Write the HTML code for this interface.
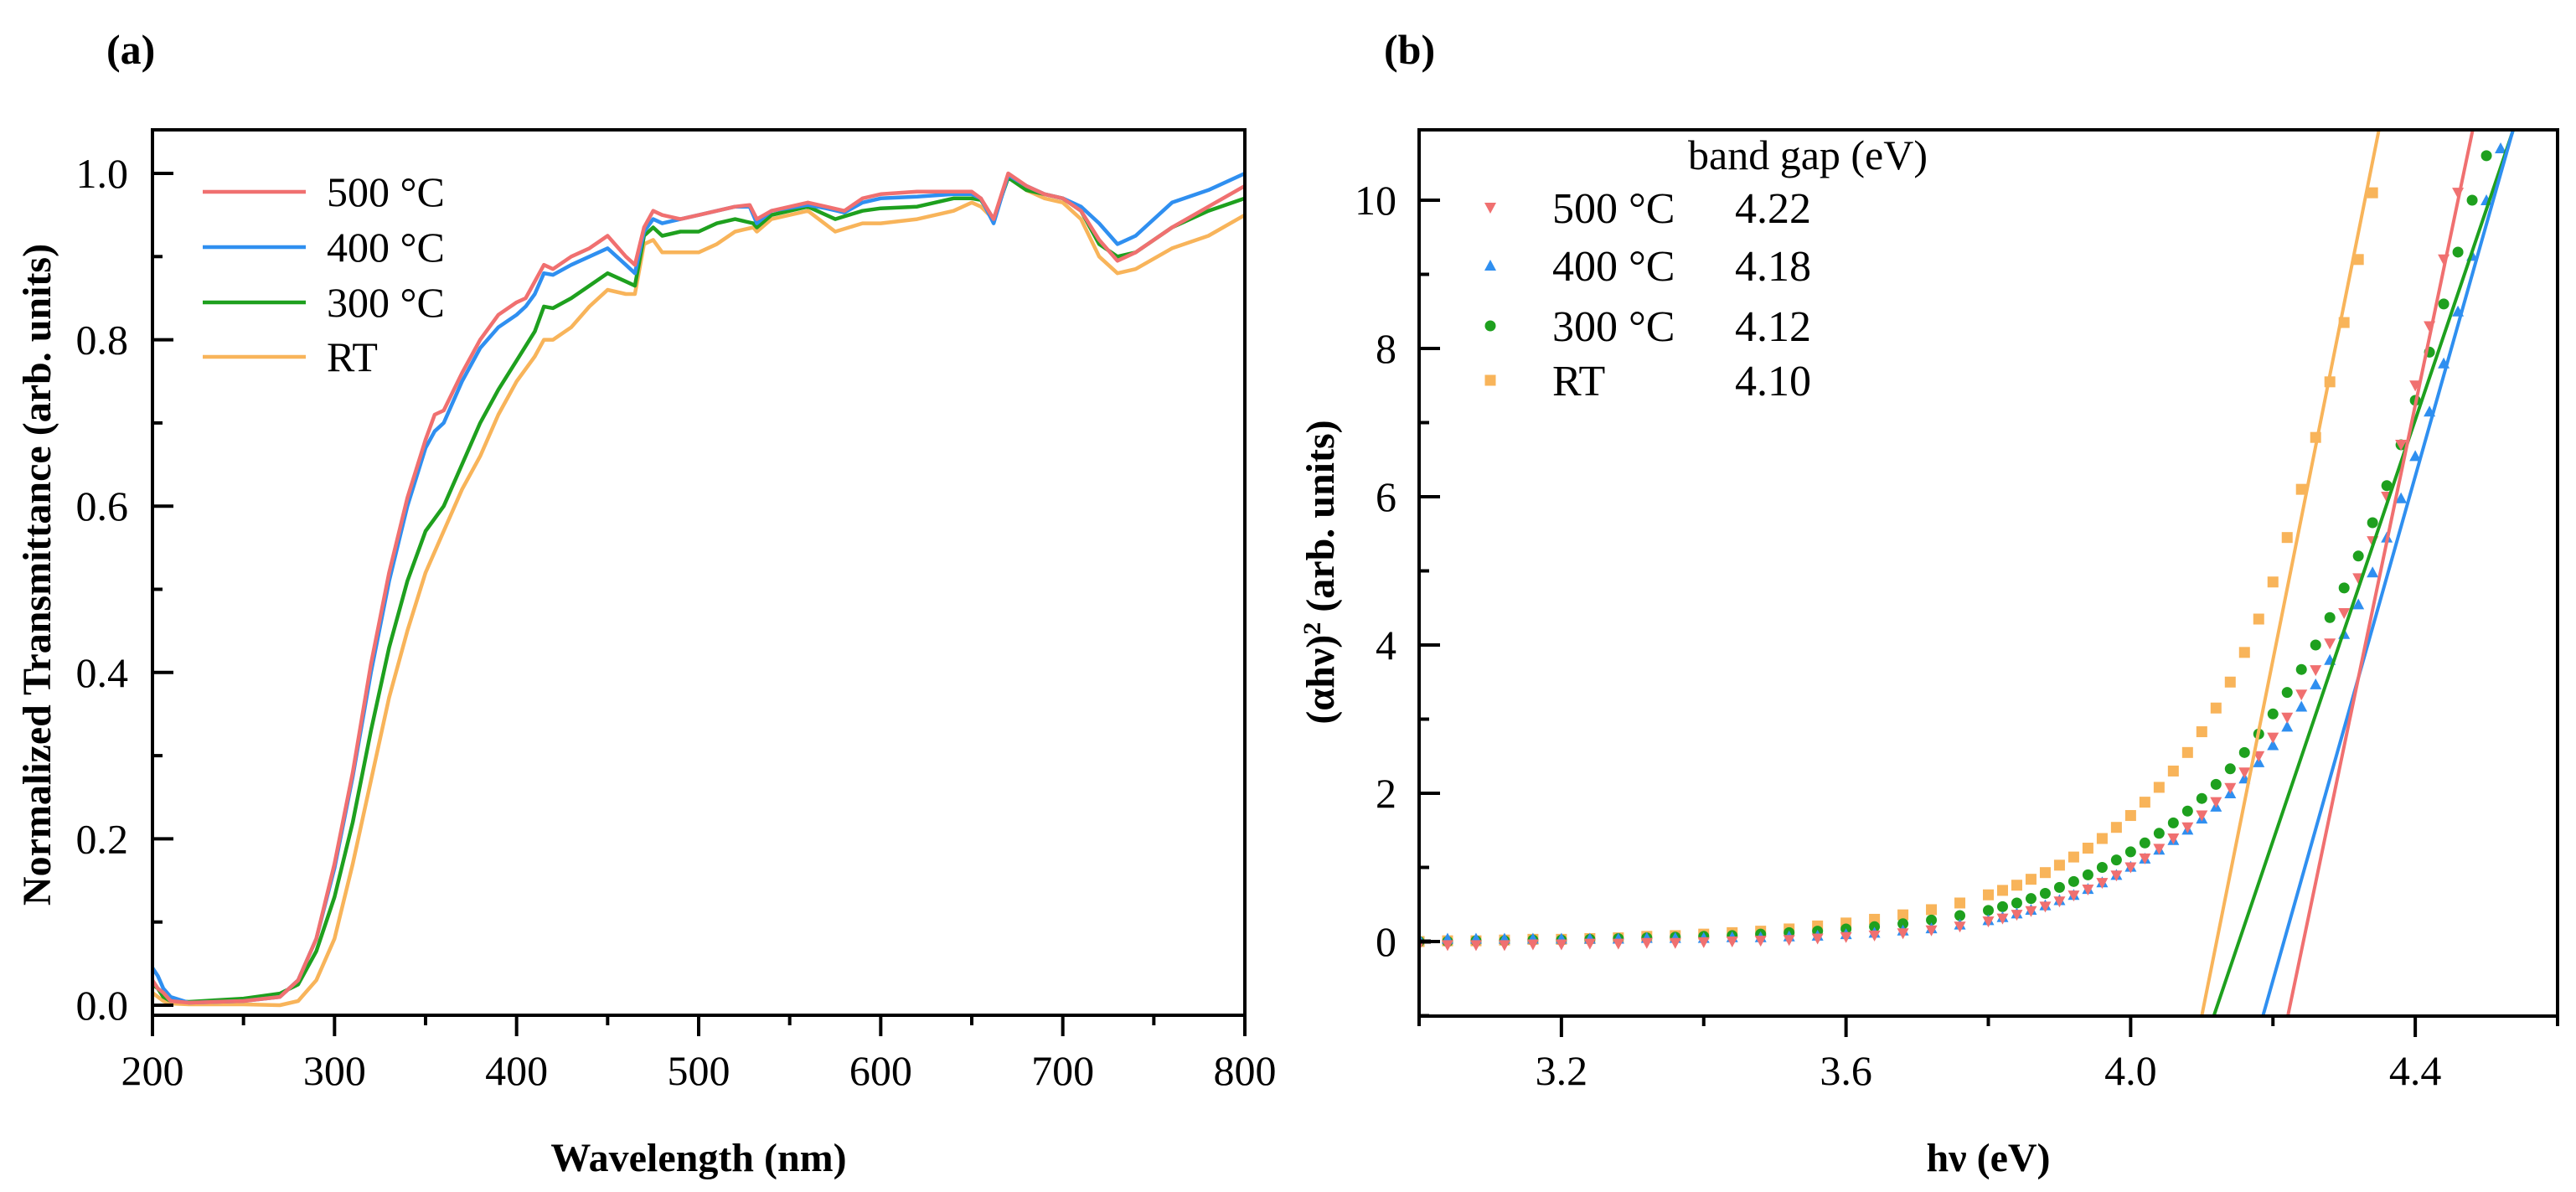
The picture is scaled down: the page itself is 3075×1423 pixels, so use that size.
<!DOCTYPE html>
<html><head><meta charset="utf-8">
<style>
html,body{margin:0;padding:0;background:#fff;overflow:hidden;}
svg{display:block;font-family:"Liberation Serif",serif;}
</style></head>
<body>
<svg id="fig" width="3075" height="1423" viewBox="0 0 3075 1423" xmlns="http://www.w3.org/2000/svg">
<rect width="3075" height="1423" fill="#fff"/>
<text x="127" y="76" font-size="50" font-weight="bold">(a)</text>
<text x="1652" y="76" font-size="50" font-weight="bold">(b)</text>
<g id="pa"></g>
<g id="pb"></g>
</svg>
<script>
// ---------- Panel (a) data ----------
const aXTicks = [200,300,400,500,600,700,800];
const aYTicks = [0.0,0.2,0.4,0.6,0.8,1.0];
const aYTickLabels = ["0.0","0.2","0.4","0.6","0.8","1.0"];
const aNames = ["500 °C","400 °C","300 °C","RT"];
const aColors = ["#f07070","#2f8ff0","#1ea01e","#f8b45a"];
const wl500 = [200,203,206,210,220,250,270,280,290,300,310,320,330,340,350,355,360,370,380,390,400,405,410,415,420,430,440,450,460,465,470,475,480,490,500,510,520,528,532,540,560,570,580,590,600,620,640,650,655,662,670,680,690,700,710,720,730,740,760,780,800];
const t500 = [0.03,0.02,0.015,0.005,0.003,0.005,0.01,0.03,0.08,0.17,0.28,0.41,0.52,0.61,0.68,0.71,0.715,0.76,0.80,0.83,0.845,0.85,0.87,0.89,0.885,0.90,0.91,0.925,0.90,0.89,0.935,0.955,0.95,0.945,0.95,0.955,0.96,0.962,0.945,0.955,0.965,0.96,0.955,0.97,0.975,0.978,0.978,0.978,0.97,0.945,1.0,0.985,0.975,0.97,0.955,0.92,0.895,0.905,0.935,0.96,0.985];
const wl400 = [200,203,206,210,220,250,270,280,290,300,310,320,330,340,350,355,360,370,380,390,400,405,410,415,420,430,440,450,460,465,470,475,480,490,500,510,520,528,532,540,560,570,580,590,600,620,640,650,655,662,670,680,690,700,710,720,730,740,760,780,800];
const t400 = [0.045,0.035,0.02,0.01,0.003,0.005,0.01,0.03,0.08,0.165,0.275,0.40,0.51,0.60,0.67,0.69,0.70,0.75,0.79,0.815,0.83,0.84,0.855,0.88,0.878,0.89,0.90,0.91,0.89,0.88,0.93,0.945,0.94,0.945,0.95,0.955,0.96,0.96,0.94,0.955,0.962,0.958,0.953,0.965,0.97,0.972,0.975,0.975,0.97,0.94,0.998,0.985,0.975,0.97,0.96,0.94,0.915,0.925,0.965,0.98,1.0];
const wl300 = [200,203,206,210,220,250,270,280,290,300,310,320,330,340,350,360,370,380,390,400,410,415,420,430,440,450,460,465,470,475,480,490,500,510,520,530,532,540,560,575,590,600,620,640,650,655,662,670,680,690,700,710,720,730,740,760,780,800];
const t300 = [0.025,0.02,0.01,0.005,0.004,0.008,0.014,0.025,0.065,0.13,0.22,0.33,0.43,0.51,0.57,0.60,0.65,0.70,0.74,0.775,0.81,0.84,0.838,0.85,0.865,0.88,0.87,0.865,0.925,0.935,0.925,0.93,0.93,0.94,0.945,0.94,0.935,0.95,0.96,0.945,0.955,0.958,0.96,0.97,0.97,0.968,0.945,0.995,0.98,0.975,0.97,0.955,0.915,0.90,0.905,0.935,0.955,0.97];
const wlRT = [200,203,206,210,220,250,270,280,290,300,310,320,330,340,350,360,370,380,390,400,410,415,420,430,440,450,460,465,470,475,480,490,500,510,520,530,532,540,560,575,590,600,620,640,650,655,662,670,680,690,700,710,720,730,740,760,780,800];
const tRT = [0.015,0.01,0.005,0.002,0.001,0.001,0.0,0.005,0.03,0.08,0.17,0.27,0.37,0.45,0.52,0.57,0.62,0.66,0.71,0.75,0.78,0.80,0.80,0.815,0.84,0.86,0.855,0.855,0.915,0.92,0.905,0.905,0.905,0.915,0.93,0.935,0.93,0.945,0.955,0.93,0.94,0.94,0.945,0.955,0.965,0.96,0.945,0.995,0.98,0.97,0.965,0.945,0.90,0.88,0.885,0.91,0.925,0.95];

// ---------- Panel (b) data ----------
const bXTicks = [3.2,3.6,4.0,4.4];
const bXTickLabels = ["3.2","3.6","4.0","4.4"];
const bYTicks = [0,2,4,6,8,10];
const bNames = ["500 °C","400 °C","300 °C","RT"];
const bGaps = ["4.22","4.18","4.12","4.10"];
const bColors = ["#f07070","#2f8ff0","#1ea01e","#f8b45a"];
const fitX0 = [4.221,4.186,4.117,4.100];   // x where fit line meets y=-1
const fitSlope = [46,34,28.4,48];
const hv500 = [3.0,3.04,3.08,3.12,3.16,3.2,3.24,3.28,3.32,3.36,3.4,3.44,3.48,3.52,3.56,3.6,3.64,3.68,3.72,3.76,3.8,3.82,3.84,3.86,3.88,3.9,3.92,3.94,3.96,3.98,4.0,4.02,4.04,4.06,4.08,4.1,4.12,4.14,4.16,4.18,4.2,4.22,4.24,4.26,4.28,4.3,4.32,4.34,4.36,4.38,4.4,4.42,4.44,4.46,4.48];
const a500 = [-0.05,-0.05,-0.05,-0.05,-0.04,-0.04,-0.03,-0.03,-0.02,-0.02,-0.01,0.0,0.01,0.02,0.04,0.06,0.08,0.11,0.15,0.2,0.27,0.31,0.36,0.41,0.47,0.54,0.62,0.7,0.79,0.89,1.0,1.12,1.25,1.39,1.54,1.7,1.88,2.07,2.28,2.5,2.75,3.02,3.33,3.66,4.02,4.43,4.9,5.4,6.0,6.7,7.5,8.3,9.2,10.1,11.0];
const hv400 = [3.0,3.04,3.08,3.12,3.16,3.2,3.24,3.28,3.32,3.36,3.4,3.44,3.48,3.52,3.56,3.6,3.64,3.68,3.72,3.76,3.8,3.82,3.84,3.86,3.88,3.9,3.92,3.94,3.96,3.98,4.0,4.02,4.04,4.06,4.08,4.1,4.12,4.14,4.16,4.18,4.2,4.22,4.24,4.26,4.28,4.3,4.32,4.34,4.36,4.38,4.4,4.42,4.44,4.46,4.48,4.5,4.52,4.54];
const a400 = [0.04,0.04,0.04,0.04,0.04,0.04,0.04,0.04,0.05,0.05,0.05,0.06,0.06,0.07,0.08,0.1,0.12,0.15,0.18,0.23,0.29,0.33,0.38,0.43,0.49,0.56,0.63,0.71,0.8,0.9,1.01,1.12,1.24,1.37,1.51,1.66,1.82,2.0,2.2,2.42,2.65,2.9,3.17,3.47,3.8,4.15,4.55,4.98,5.45,5.98,6.55,7.15,7.8,8.5,9.25,10.0,10.7,11.2];
const hv300 = [3.0,3.04,3.08,3.12,3.16,3.2,3.24,3.28,3.32,3.36,3.4,3.44,3.48,3.52,3.56,3.6,3.64,3.68,3.72,3.76,3.8,3.82,3.84,3.86,3.88,3.9,3.92,3.94,3.96,3.98,4.0,4.02,4.04,4.06,4.08,4.1,4.12,4.14,4.16,4.18,4.2,4.22,4.24,4.26,4.28,4.3,4.32,4.34,4.36,4.38,4.4,4.42,4.44,4.46,4.48,4.5,4.52];
const a300 = [0.0,0.0,0.01,0.01,0.02,0.02,0.03,0.04,0.05,0.06,0.07,0.08,0.1,0.12,0.14,0.17,0.2,0.24,0.29,0.35,0.42,0.47,0.52,0.58,0.65,0.73,0.81,0.9,1.0,1.1,1.21,1.33,1.46,1.6,1.76,1.93,2.12,2.33,2.55,2.8,3.07,3.36,3.67,4.0,4.37,4.77,5.2,5.65,6.15,6.7,7.3,7.95,8.6,9.3,10.0,10.6,11.1];
const hvRT = [3.0,3.04,3.08,3.12,3.16,3.2,3.24,3.28,3.32,3.36,3.4,3.44,3.48,3.52,3.56,3.6,3.64,3.68,3.72,3.76,3.8,3.82,3.84,3.86,3.88,3.9,3.92,3.94,3.96,3.98,4.0,4.02,4.04,4.06,4.08,4.1,4.12,4.14,4.16,4.18,4.2,4.22,4.24,4.26,4.28,4.3,4.32,4.34,4.36];
const aRT = [0.0,0.01,0.01,0.02,0.03,0.03,0.04,0.05,0.07,0.08,0.1,0.12,0.14,0.17,0.21,0.25,0.3,0.36,0.43,0.52,0.63,0.69,0.76,0.84,0.93,1.03,1.14,1.26,1.39,1.54,1.7,1.88,2.08,2.3,2.55,2.83,3.15,3.5,3.9,4.35,4.85,5.45,6.1,6.8,7.55,8.35,9.2,10.1,11.0];

const NS = "http://www.w3.org/2000/svg";
function mk(parent, tag, attrs, text){
  const e = document.createElementNS(NS, tag);
  for (const k in attrs) e.setAttribute(k, attrs[k]);
  if (text !== undefined) e.textContent = text;
  parent.appendChild(e);
  return e;
}

// ---------- Panel (a) ----------
(function(){
  const g = document.getElementById('pa');
  const L=182, R=1486, T=155, B=1212;
  const yPx0=1200, yPx1=207;
  const xmin=200, xmax=800;
  const sx = v => L + (v-xmin)/(xmax-xmin)*(R-L);
  const sy = v => yPx0 + v*(yPx1-yPx0);
  const clip = mk(g,'clipPath',{id:'clipA'});
  mk(clip,'rect',{x:L,y:T,width:R-L,height:B-T});
  const wls=[wl500,wl400,wl300,wlRT], ts=[t500,t400,t300,tRT];
  for (let s=3;s>=0;s--){
    const d = wls[s].map((w,i)=>(i?'L':'M')+sx(w).toFixed(1)+','+sy(ts[s][i]).toFixed(1)).join('');
    const p = mk(g,'path',{d:d,fill:'none',stroke:aColors[s],'stroke-width':4.5,'stroke-linejoin':'round','clip-path':'url(#clipA)'});
    
    
  }
  const frame = mk(g,'rect',{x:L,y:T,width:R-L,height:B-T,fill:'none',stroke:'#000','stroke-width':4});
  
  
  for (let v=xmin; v<=xmax; v+=50){
    const major = (v%100===0);
    mk(g,'line',{x1:sx(v),x2:sx(v),y1:B,y2:B+(major?25:12),stroke:'#000','stroke-width':4});
  }
  aXTicks.forEach(v=>{
    const t = mk(g,'text',{x:sx(v),y:1295,'font-size':50,'text-anchor':'middle'},String(v));
    
    
  });
  for (let k=0;k<=10;k++){
    const v=k/10, major=(k%2===0);
    mk(g,'line',{x1:L,x2:L+(major?25:12),y1:sy(v),y2:sy(v),stroke:'#000','stroke-width':4});
  }
  aYTicks.forEach((v,i)=>{
    const t = mk(g,'text',{x:153,y:sy(v)+17,'font-size':50,'text-anchor':'end'},aYTickLabels[i]);
    
    
  });
  const xt = mk(g,'text',{x:(L+R)/2,y:1398,'font-size':48,'font-weight':'bold','text-anchor':'middle'},'Wavelength (nm)');
  
  
  const yt = mk(g,'text',{x:0,y:0,'font-size':48,'font-weight':'bold','text-anchor':'middle',transform:'translate(60,686) rotate(-90)'},'Normalized Transmittance (arb. units)');
  
  
  const ly=[229,295,361,426];
  aNames.forEach((n,i)=>{
    const lg = mk(g,'g',{});
    
    
    mk(lg,'line',{x1:242,x2:365,y1:ly[i],y2:ly[i],stroke:aColors[i],'stroke-width':4.5});
    mk(lg,'text',{x:390,y:ly[i]+17,'font-size':50},n);
  });
})();

// ---------- Panel (b) ----------
(function(){
  const g = document.getElementById('pb');
  const L=1694, R=3053, T=155, B=1213;
  const xmin=3.0, xmax=4.6;
  const yPx0=1124, perUnit=88.5;
  const sx = v => L + (v-xmin)/(xmax-xmin)*(R-L);
  const sy = v => yPx0 - v*perUnit;
  const clip = mk(g,'clipPath',{id:'clipB'});
  mk(clip,'rect',{x:L,y:T,width:R-L,height:B-T});
  const inner = mk(g,'g',{'clip-path':'url(#clipB)'});
  const hvs=[hv500,hv400,hv300,hvRT], as=[a500,a400,a300,aRT];
  function marker(par,s,x,y){
    let e;
    if (s===0) e = mk(par,'path',{d:`M${x-7},${y-6}L${x+7},${y-6}L${x},${y+7}Z`,fill:bColors[s]});
    else if (s===1) e = mk(par,'path',{d:`M${x-7},${y+6}L${x+7},${y+6}L${x},${y-7}Z`,fill:bColors[s]});
    else if (s===2) e = mk(par,'circle',{cx:x,cy:y,r:6.5,fill:bColors[s]});
    else e = mk(par,'rect',{x:x-6.5,y:y-6.5,width:13,height:13,fill:bColors[s]});
    return e;
  }
  [3,2,1,0].forEach(s=>{
    const sg = mk(inner,'g',{});
    
    
    hvs[s].forEach((x,i)=>{ marker(sg,s,sx(x),sy(as[s][i])); });
  });
  [3,2,1,0].forEach(s=>{
    const x1=fitX0[s], x2=fitX0[s]+12.5/fitSlope[s];
    const ln = mk(inner,'line',{x1:sx(x1),y1:sy(-1),x2:sx(x2),y2:sy(11.5),stroke:bColors[s],'stroke-width':4});
    
    
  });
  mk(g,'line',{x1:L,x2:L+14,y1:sy(0),y2:sy(0),stroke:'#000','stroke-width':5});
  const frame = mk(g,'rect',{x:L,y:T,width:R-L,height:B-T,fill:'none',stroke:'#000','stroke-width':4});
  
  
  for (let k=0;k<=8;k++){
    const v=3.0+k*0.2, major=(k%2===1);
    mk(g,'line',{x1:sx(v),x2:sx(v),y1:B,y2:B+(major?25:12),stroke:'#000','stroke-width':4});
  }
  bXTicks.forEach((v,i)=>{
    const t = mk(g,'text',{x:sx(v),y:1295,'font-size':50,'text-anchor':'middle'},bXTickLabels[i]);
    
    
  });
  for (let v=-1; v<=10; v++){
    const major=(v%2===0);
    mk(g,'line',{x1:L,x2:L+(major?25:12),y1:sy(v),y2:sy(v),stroke:'#000','stroke-width':4});
  }
  bYTicks.forEach(v=>{
    const t = mk(g,'text',{x:1667,y:sy(v)+17,'font-size':50,'text-anchor':'end'},String(v));
    
    
  });
  const xt = mk(g,'text',{x:(L+R)/2,y:1398,'font-size':48,'font-weight':'bold','text-anchor':'middle'},'hν (eV)');
  
  
  const yt = mk(g,'text',{x:0,y:0,'font-size':48,'font-weight':'bold','text-anchor':'middle',transform:'translate(1592,683) rotate(-90)'});
  
  
  yt.appendChild(document.createTextNode('(αhν)'));
  mk(yt,'tspan',{dy:-16,'font-size':30},'2');
  mk(yt,'tspan',{dy:16},' (arb. units)');
  const lt = mk(g,'text',{x:2015,y:202,'font-size':50},'band gap (eV)');
  
  
  const ly=[248,317,389,454];
  bNames.forEach((n,i)=>{
    const lg = mk(g,'g',{});
    
    
    marker(lg,i,1779,ly[i]);
    mk(lg,'text',{x:1853,y:ly[i]+18,'font-size':52},n);
    mk(lg,'text',{x:2071,y:ly[i]+18,'font-size':52},bGaps[i]);
  });
})();
</script>
</body></html>
